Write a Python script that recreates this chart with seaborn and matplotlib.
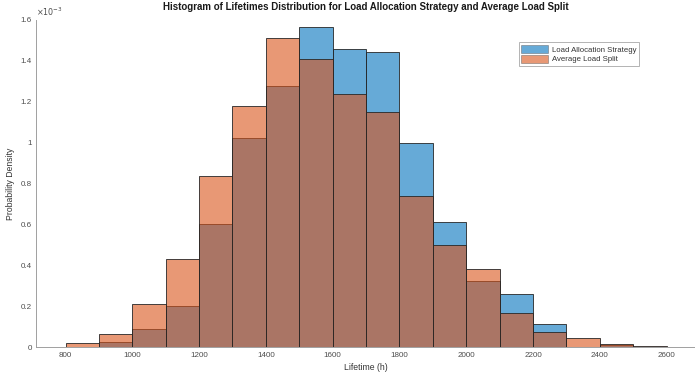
import numpy as np
import pandas as pd
import matplotlib
matplotlib.use("Agg")
import matplotlib.pyplot as plt
import seaborn as sns
from matplotlib.ticker import FuncFormatter

# bin edges (h) and probability density per bin (x1e-3)
bin_edges = [800, 900, 1000, 1100, 1200, 1300, 1400, 1500, 1600, 1700,
             1800, 1900, 2000, 2100, 2200, 2300, 2400, 2500, 2600]
load_allocation = [0.0, 0.026, 0.091, 0.203, 0.601, 1.021, 1.279, 1.564, 1.456,
                   1.442, 0.997, 0.614, 0.324, 0.259, 0.112, 0.0, 0.012, 0.0]
average_split = [0.020, 0.068, 0.210, 0.432, 0.839, 1.181, 1.510, 1.408, 1.237,
                 1.149, 0.740, 0.500, 0.383, 0.166, 0.073, 0.047, 0.015, 0.008]
series_names = ["Load Allocation Strategy", "Average Load Split"]

centers = [(a + b) / 2 for a, b in zip(bin_edges[:-1], bin_edges[1:])]
df_la = pd.DataFrame({"lifetime": centers, "density": [v * 1e-3 for v in load_allocation]})
df_avg = pd.DataFrame({"lifetime": centers, "density": [v * 1e-3 for v in average_split]})

sns.set_style("white")
plt.rcParams["font.family"] = ["Liberation Sans", "DejaVu Sans"]

blue = (0.0, 0.447, 0.741)
orange = (0.85, 0.325, 0.098)

fig = plt.figure(figsize=(6.95, 3.76), dpi=100)
ax = fig.add_axes([0.052, 0.076, 0.948, 0.871])

# blue first, orange on top (as MATLAB draws the second histogram over the first)
for data, color in [(df_la, blue), (df_avg, orange)]:
    sns.histplot(data=data, x="lifetime", weights="density", bins=bin_edges,
                 stat="count", element="bars", color=color, alpha=0.6,
                 edgecolor="#262626", linewidth=0.6, ax=ax)

ax.set_xlim(712, 2685)
ax.set_ylim(0, 1.6e-3)
ax.set_xticks(range(800, 2601, 200))
ax.set_yticks(np.arange(0, 1.61e-3, 0.2e-3))
ax.yaxis.set_major_formatter(FuncFormatter(lambda v, p: f"{v * 1e3:.1f}".rstrip("0").rstrip(".")))

for side in ["top", "right"]:
    ax.spines[side].set_visible(False)
for side in ["left", "bottom"]:
    ax.spines[side].set_color("#a0a0a0")
    ax.spines[side].set_linewidth(0.7)
ax.tick_params(direction="in", length=3, width=0.6, color="#a0a0a0",
               labelsize=5.8, labelcolor="#4d4d4d", pad=3)

ax.text(0.0, 1.005, r"$\times10^{-3}$", transform=ax.transAxes,
        fontsize=5.8, color="#4d4d4d", ha="left", va="bottom")

ax.set_xlabel("Lifetime (h)", fontsize=6.2, color="#333333", labelpad=3)
ax.set_ylabel("Probability Density", fontsize=6.2, color="#333333", labelpad=4)
ax.set_title("Histogram of Lifetimes Distribution for Load Allocation Strategy and Average Load Split",
             fontsize=7.0, fontweight="bold", color="#1a1a1a", pad=7)

handles = [plt.Rectangle((0, 0), 1, 1, facecolor=c, alpha=0.6, edgecolor="#555555", linewidth=0.5)
           for c in (blue, orange)]
leg = ax.legend(handles, series_names, loc="upper left", bbox_to_anchor=(0.727, 0.943),
                fontsize=5.6, frameon=True, fancybox=False, handlelength=3.4,
                handleheight=1.3, handletextpad=0.5, borderpad=0.3, labelspacing=0.12)
leg.get_frame().set_edgecolor("#a0a0a0")
leg.get_frame().set_linewidth(0.7)
for t in leg.get_texts():
    t.set_color("#333333")

fig.savefig("out.png", dpi=100)
